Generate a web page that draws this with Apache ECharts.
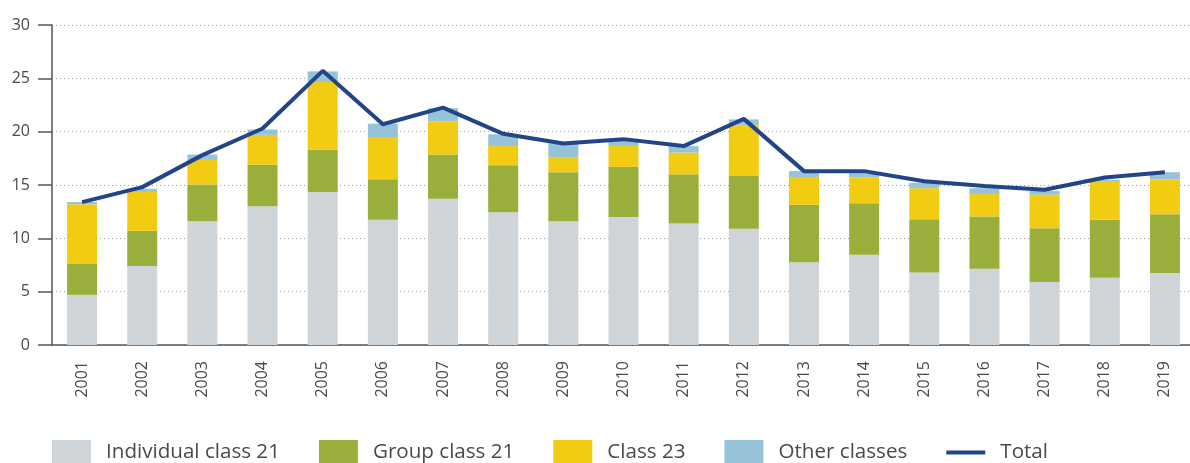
<!DOCTYPE html>
<html>
<head>
<meta charset="utf-8">
<script src="https://cdn.jsdelivr.net/npm/echarts@6/dist/echarts.min.js"></script>
<style>
  html, body { margin: 0; padding: 0; background: #fff; }
  #chart { width: 1190px; height: 463px; }
</style>
</head>
<body>
<div id="chart"></div>
<script>
// values
var years = ['2001', '2002', '2003', '2004', '2005', '2006', '2007', '2008', '2009', '2010',
  '2011', '2012', '2013', '2014', '2015', '2016', '2017', '2018', '2019'];
var individual21 = [4.7, 7.4, 11.6, 13.0, 14.35, 11.75, 13.7, 12.45, 11.6, 12.0, 11.4, 10.9, 7.75, 8.45, 6.8, 7.15, 5.9, 6.3, 6.75];
var group21 = [2.9, 3.3, 3.45, 3.9, 3.95, 3.8, 4.15, 4.4, 4.6, 4.7, 4.6, 5.0, 5.4, 4.85, 5.0, 4.9, 5.05, 5.45, 5.5];
var class23 = [5.6, 3.65, 2.3, 2.8, 6.35, 3.95, 3.1, 1.8, 1.4, 1.95, 2.05, 4.7, 2.6, 2.4, 2.9, 2.1, 3.15, 3.55, 3.3];
var otherClasses = [0.2, 0.3, 0.5, 0.5, 1.0, 1.25, 1.25, 1.1, 1.3, 0.5, 0.6, 0.55, 0.55, 0.4, 0.5, 0.55, 0.35, 0.2, 0.65];
var total = [13.4, 14.8, 17.8, 20.3, 25.7, 20.7, 22.25, 19.8, 18.9, 19.3, 18.65, 21.2, 16.3, 16.3, 15.35, 14.9, 14.55, 15.7, 16.2];

var textColor = '#4a4a4a';
var fontFam = '"Open Sans", "Noto Sans", sans-serif';

function barSeries(name, data, color) {
  return {
    name: name,
    type: 'bar',
    stack: 'all',
    barWidth: 30,
    itemStyle: { color: color },
    data: data
  };
}

var myChart = echarts.init(document.getElementById('chart'));
myChart.setOption({
  animation: false,
  textStyle: { fontFamily: fontFam },
  grid: {
    left: 52,
    right: -5,
    top: 25,
    bottom: 118,
    containLabel: false,
    outerBoundsMode: 'none'
  },
  legend: {
    left: 52,
    top: 440,
    padding: 0,
    itemWidth: 39,
    itemHeight: 25,
    itemGap: 39,
    symbolKeepAspect: true,
    textStyle: { color: textColor, fontSize: 20.6, fontFamily: fontFam, padding: [0, 0, 0, 10] },
    data: [
      { name: 'Individual class 21', icon: 'rect' },
      { name: 'Group class 21', icon: 'rect' },
      { name: 'Class 23', icon: 'rect' },
      { name: 'Other classes', icon: 'rect' },
      { name: 'Total', icon: 'path://M0,0 H42 V4.5 H0 Z' }
    ]
  },
  xAxis: {
    type: 'category',
    data: years,
    axisLine: { lineStyle: { color: '#555', width: 1.5 } },
    axisTick: { inside: true, length: 13, lineStyle: { color: '#555', width: 1.5 } },
    axisLabel: { rotate: 90, margin: 16, color: textColor, fontSize: 16 }
  },
  yAxis: {
    type: 'value',
    min: 0,
    max: 30,
    interval: 5,
    axisLine: { show: true, lineStyle: { color: '#555', width: 1.5 } },
    axisTick: { show: true, length: 14, lineStyle: { color: '#555', width: 1.5 } },
    axisLabel: { margin: 22, color: textColor, fontSize: 16 },
    splitLine: { lineStyle: { color: '#999', type: [1, 3], width: 1 } }
  },
  series: [
    barSeries('Individual class 21', individual21, '#cfd4d8'),
    barSeries('Group class 21', group21, '#9aae3b'),
    barSeries('Class 23', class23, '#f2cc12'),
    barSeries('Other classes', otherClasses, '#97c3d8'),
    {
      name: 'Total',
      type: 'line',
      symbol: 'none',
      z: 5,
      lineStyle: { color: '#22458a', width: 4 },
      itemStyle: { color: '#22458a' },
      data: total
    }
  ]
});
</script>
</body>
</html>
